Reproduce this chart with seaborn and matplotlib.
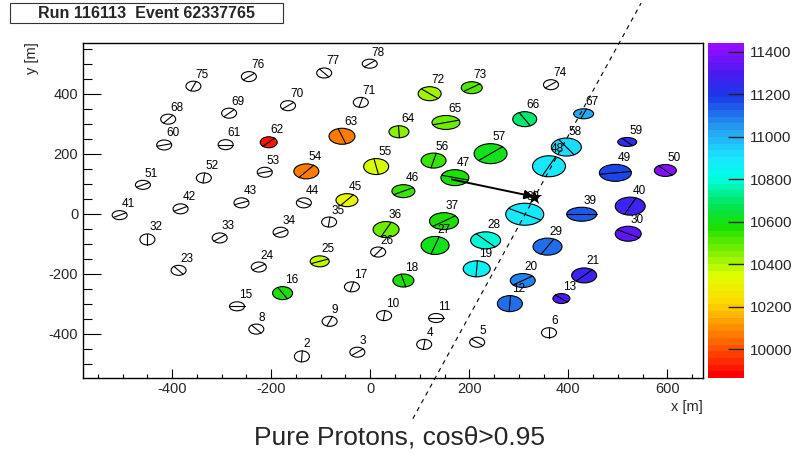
import numpy as np
import matplotlib
matplotlib.use("Agg")
import matplotlib.pyplot as plt
import matplotlib.transforms as mtransforms
import seaborn as sns
import pandas as pd
from matplotlib.patches import Ellipse, Rectangle
from matplotlib.colors import LinearSegmentedColormap, Normalize
from matplotlib.cm import ScalarMappable
from matplotlib.ticker import MultipleLocator

# ---------------- data ----------------
station_id = [2, 3, 4, 5, 6, 8, 9, 10, 11, 12, 13, 15, 16, 17, 18, 19, 20, 21,
              23, 24, 25, 26, 27, 28, 29, 30, 32, 33, 34, 35, 36, 37, 38, 39, 40,
              41, 42, 43, 44, 45, 46, 47, 48, 49, 50, 51, 52, 53, 54, 55, 56, 57,
              58, 59, 60, 61, 62, 63, 64, 65, 66, 67, 68, 69, 70, 71, 72, 73, 74,
              75, 76, 77, 78]
station_x = [-138, -26, 109, 216, 361, -230, -82, 28, 133, 282, 386, -269, -177, -37, 67, 215, 308, 432,
             -387, -225, -102, 16, 131, 233, 358, 521, -450, -304, -181, -83, 32, 149, 312, 427, 525,
             -506, -383, -260, -134, -47, 67, 171, 361, 495, 596, -459, -336, -213, -129, 12, 128, 243,
             396, 519, -416, -292, -205, -57, 58, 153, 312, 431, -408, -285, -166, -19, 120, 205, 365,
             -357, -245, -93, -1]
station_y = [-476, -462, -436, -429, -397, -385, -359, -340, -348, -300, -283, -309, -265, -244, -223, -184, -223, -206,
             -189, -178, -159, -128, -106, -89, -110, -67, -86, -81, -62, -28, -53, -25, -2, -2, 25,
             -5, 16, 36, 36, 45, 75, 120, 158, 136, 144, 96, 119, 138, 141, 157, 177, 200,
             222, 239, 229, 230, 238, 258, 273, 304, 315, 333, 315, 335, 360, 371, 400, 420, 430,
             425, 457, 469, 500]
nan = np.nan
station_value = [nan, nan, nan, nan, nan, nan, nan, nan, nan, 11100, 11310, nan, 10560, nan, 10560, 10850, 11080, 11270,
                 nan, nan, 10380, nan, 10590, 10780, 11100, 11330, nan, nan, nan, nan, 10480, 10580, 10900, 11130, 11260,
                 nan, nan, nan, nan, 10330, 10530, 10560, 10900, 11180, 11400, nan, nan, nan, 10060, 10350, 10540, 10620,
                 10920, 11230, nan, nan, 9900, 10080, 10450, 10480, 10700, 11000, nan, nan, nan, nan, 10420, 10520, nan,
                 nan, nan, nan, nan]
# ellipse size (relative units) and shower-direction angle per station
size_w = [15, 15, 15, 15, 15, 15, 15, 15, 15, 25, 17, 15, 20, 15, 21, 27, 25, 25,
          15, 15, 19, 15, 28, 30, 29, 26, 15, 15, 15, 15, 26, 29, 38, 30, 30,
          15, 15, 15, 15, 22, 23, 28, 33, 32, 22, 15, 15, 15, 25, 25, 25, 33,
          30, 19, 15, 15, 17, 26, 20, 28, 24, 20, 15, 15, 15, 15, 23, 21, 15,
          15, 15, 15, 15]
size_h = [11, 10, 10, 10, 10, 10, 10, 10, 9, 16, 10, 9, 13, 10, 13, 16, 14, 15,
          10, 10, 11, 10, 18, 17, 17, 15, 11, 10, 10, 10, 16, 17, 22, 14, 18,
          9, 10, 10, 10, 13, 13, 16, 21, 17, 12, 9, 10, 10, 15, 16, 15, 20,
          18, 9, 10, 10, 11, 16, 12, 14, 15, 10, 10, 10, 10, 10, 14, 12, 10,
          10, 10, 10, 9]
axis_angle = [85, 30, 80, -30, 90, -40, 60, 80, 0, 85, -30, 0, -50, 70, -70, 85, 25, 35,
              -40, 25, 15, 45, 65, -35, 50, -20, 90, 30, 20, 80, 55, 25, -20, 0, 55,
              20, 20, 15, -20, 40, 20, -10, 55, 5, -35, 20, 80, 10, 40, -74, 70, 30,
              -45, -35, 10, 0, 35, -63, -85, 10, -50, 60, 40, 35, 30, 70, -30, 25, 30,
              60, 30, -40, 30]

core_x, core_y = 330, 57
arrow_start_x, arrow_start_y = 165, 114
axis_line_x = [86, 547]
axis_line_y = [-684, 702]

cbar_ticks = [10000, 10200, 10400, 10600, 10800, 11000, 11200, 11400]
vmin, vmax = 9865, 11440
x_lim = (-580, 672)
y_lim = (-548, 569)

df = pd.DataFrame(dict(id=station_id, x=station_x, y=station_y, value=station_value,
                       w=size_w, h=size_h, ang=axis_angle))

# ---------------- style ----------------
sns.set_style("white")
plt.rcParams['font.family'] = ['Liberation Sans', 'DejaVu Sans']
plt.rcParams['axes.unicode_minus'] = False
plt.rcParams['axes.axisbelow'] = False

W, H = 792, 454
fig = plt.figure(figsize=(W / 100, H / 100), dpi=100)
ax_l, ax_r, ax_t, ax_b = 83, 703, 43, 378
ax = fig.add_axes([ax_l / W, 1 - ax_b / H, (ax_r - ax_l) / W, (ax_b - ax_t) / H])
ax.set_xlim(*x_lim)
ax.set_ylim(*y_lim)

cmap = LinearSegmentedColormap.from_list("rootpal", [
    (0.00, (1.00, 0.00, 0.00)),
    (0.10, (1.00, 0.40, 0.00)),
    (0.22, (1.00, 0.85, 0.00)),
    (0.30, (0.88, 1.00, 0.00)),
    (0.45, (0.10, 0.88, 0.00)),
    (0.52, (0.00, 0.90, 0.35)),
    (0.60, (0.00, 1.00, 0.90)),
    (0.66, (0.10, 0.90, 1.00)),
    (0.74, (0.15, 0.65, 0.95)),
    (0.85, (0.10, 0.22, 0.90)),
    (0.92, (0.30, 0.10, 0.95)),
    (1.00, (0.58, 0.05, 1.00)),
], N=50)
norm = Normalize(vmin, vmax)

sx = (ax_r - ax_l) / (x_lim[1] - x_lim[0])   # px per metre
sy = (ax_b - ax_t) / (y_lim[1] - y_lim[0])

for _, r in df.iterrows():
    face = 'white' if np.isnan(r.value) else cmap(norm(r.value))
    e = Ellipse((r.x, r.y), width=r.w / sx, height=r.h / sy, facecolor=face,
                edgecolor='black', lw=0.8, zorder=2)
    ax.add_patch(e)
    a, b = r.w / 2, r.h / 2
    t = np.radians(r.ang)
    rad = 1 / np.sqrt((np.cos(t) / a) ** 2 + (np.sin(t) / b) ** 2)
    dx, dy = rad * np.cos(t) / sx, rad * np.sin(t) / sy
    ax.plot([r.x - dx, r.x + dx], [r.y - dy, r.y + dy], color='black', lw=0.8, zorder=3)
    ax.annotate(str(int(r.id)), (r.x, r.y), xytext=(2, r.h / 2 + 0.5), textcoords='offset pixels',
                ha='left', va='bottom', fontsize=8.5, color='black', zorder=4)

# shower axis (dashed) and core
ax.plot(axis_line_x, axis_line_y, color='black', lw=0.8, ls=(0, (4, 4)), clip_on=False, zorder=5)
ax.annotate('', xy=(core_x, core_y), xytext=(arrow_start_x, arrow_start_y),
            arrowprops=dict(arrowstyle='-|>', color='black', lw=1.4, mutation_scale=13,
                            shrinkA=0, shrinkB=0), zorder=6)
sns.scatterplot(x=[core_x], y=[core_y], marker='*', s=130, color='black', ax=ax, zorder=7,
                linewidth=0, legend=False)
ax.set_xlabel('')
ax.set_ylabel('')

# axes styling (ROOT-like)
for side in ['top', 'right', 'left', 'bottom']:
    ax.spines[side].set_color('black')
    ax.spines[side].set_linewidth(1.0)
ax.xaxis.set_major_locator(MultipleLocator(200))
ax.xaxis.set_minor_locator(MultipleLocator(50))
ax.yaxis.set_major_locator(MultipleLocator(200))
ax.yaxis.set_minor_locator(MultipleLocator(50))
ax.tick_params(axis='x', which='major', direction='in', length=6.5, width=0.8, labelsize=10.5, pad=3,
               bottom=True, top=False, color='black')
ax.tick_params(axis='x', which='minor', direction='in', length=3.2, width=0.8, bottom=True, top=False,
               color='black')
ax.tick_params(axis='y', which='major', direction='in', length=13, width=0.8, labelsize=10.5, pad=3.5,
               left=True, right=False, color='black')
ax.tick_params(axis='y', which='minor', direction='in', length=6.5, width=0.8, left=True, right=False,
               color='black')

# colorbar
cax = fig.add_axes([708 / W, 1 - ax_b / H, 36 / W, (ax_b - ax_t) / H])
cb = fig.colorbar(ScalarMappable(norm=norm, cmap=cmap), cax=cax, ticks=cbar_ticks)
cb.outline.set_linewidth(0)
cax.minorticks_off()
cax.yaxis.set_ticks_position('right')
cax.tick_params(axis='y', which='major', direction='in', length=0, labelsize=11, pad=4,
                right=True, left=False)
blend = mtransforms.blended_transform_factory(cax.transAxes, cax.transData)
for v in cbar_ticks:
    cax.plot([0.55, 1.0], [v, v], transform=blend, color='#222222', lw=1.0, zorder=10,
             solid_capstyle='butt')

# texts
fig.text(32 / W, 1 - 58 / H, 'y [m]', rotation=90, ha='center', va='center', fontsize=10.5)
fig.text(687 / W, 1 - 407 / H, 'x [m]', ha='center', va='center', fontsize=10.5)
fig.text(400 / W, 1 - 437 / H, 'Pure Protons, cos\u03b8>0.95', ha='center', va='center', fontsize=19)

box = Rectangle((10 / W, 1 - 23 / H), 273 / W, 20 / H, transform=fig.transFigure,
                facecolor='white', edgecolor='#333333', lw=0.8)
fig.add_artist(box)
fig.text(146.5 / W, 1 - 13.5 / H, 'Run 116113  Event 62337765', ha='center', va='center',
         fontsize=11.5, fontweight='bold')

fig.savefig('out.png', dpi=100)
